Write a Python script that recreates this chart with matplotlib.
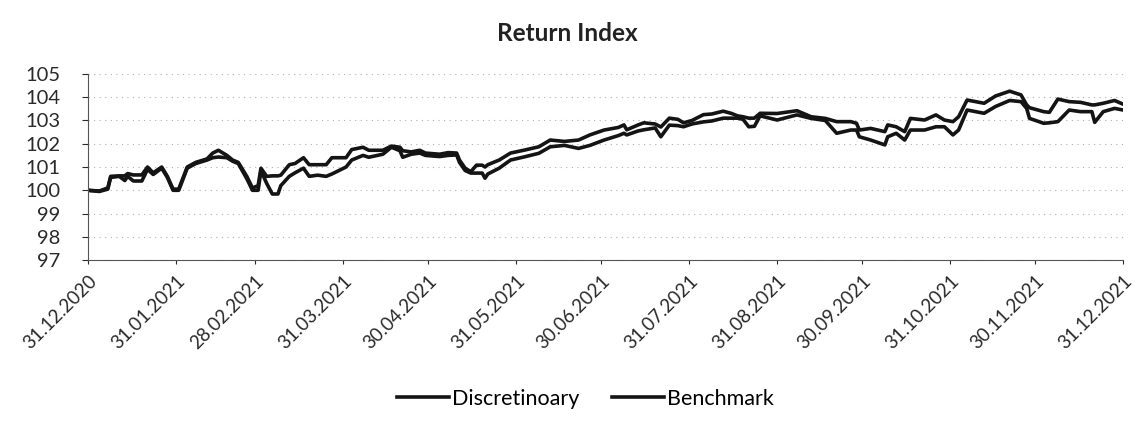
import numpy as np
import pandas as pd
import matplotlib
matplotlib.use("Agg")
import matplotlib.pyplot as plt
import matplotlib.dates as mdates

# values (two series, both drawn in black)
dates = [
    "2020-12-31", "2021-01-04", "2021-01-07", "2021-01-08", "2021-01-11", "2021-01-13",
    "2021-01-14", "2021-01-16", "2021-01-19", "2021-01-21", "2021-01-23", "2021-01-26",
    "2021-01-28", "2021-01-30", "2021-02-01", "2021-02-04", "2021-02-07", "2021-02-11",
    "2021-02-13", "2021-02-15", "2021-02-18", "2021-02-20", "2021-02-22", "2021-02-25",
    "2021-02-27", "2021-03-01", "2021-03-02", "2021-03-04", "2021-03-06", "2021-03-08",
    "2021-03-09", "2021-03-12", "2021-03-14", "2021-03-17", "2021-03-19", "2021-03-22",
    "2021-03-25", "2021-03-27", "2021-04-01", "2021-04-03", "2021-04-07", "2021-04-09",
    "2021-04-14", "2021-04-17", "2021-04-20", "2021-04-21", "2021-04-24", "2021-04-27",
    "2021-04-29", "2021-05-04", "2021-05-07", "2021-05-10", "2021-05-11", "2021-05-13",
    "2021-05-15", "2021-05-17", "2021-05-19", "2021-05-20", "2021-05-21", "2021-05-25",
    "2021-05-29", "2021-06-03", "2021-06-08", "2021-06-12", "2021-06-17", "2021-06-22",
    "2021-06-26", "2021-07-01", "2021-07-06", "2021-07-08", "2021-07-09", "2021-07-13",
    "2021-07-15", "2021-07-19", "2021-07-21", "2021-07-24", "2021-07-27", "2021-07-29",
    "2021-08-01", "2021-08-05", "2021-08-08", "2021-08-12", "2021-08-15", "2021-08-17",
    "2021-08-19", "2021-08-21", "2021-08-23", "2021-08-25", "2021-08-31", "2021-09-07",
    "2021-09-12", "2021-09-17", "2021-09-21", "2021-09-26", "2021-09-28", "2021-09-29",
    "2021-10-03", "2021-10-08", "2021-10-09", "2021-10-12", "2021-10-15", "2021-10-17",
    "2021-10-22", "2021-10-26", "2021-10-29", "2021-11-01", "2021-11-03", "2021-11-06",
    "2021-11-12", "2021-11-16", "2021-11-21", "2021-11-25", "2021-11-27", "2021-11-28",
    "2021-12-03", "2021-12-05", "2021-12-08", "2021-12-12", "2021-12-16", "2021-12-20",
    "2021-12-21", "2021-12-24", "2021-12-28", "2021-12-31",
]

discretionary = [
    100.00, 99.97, 100.10, 100.60, 100.62, 100.62,
    100.72, 100.66, 100.66, 101.00, 100.75, 101.00,
    100.60, 100.05, 100.05, 101.00, 101.20, 101.35,
    101.60, 101.72, 101.50, 101.30, 101.20, 100.60,
    100.10, 100.20, 100.95, 100.60, 100.62, 100.62,
    100.65, 101.10, 101.15, 101.40, 101.10, 101.10,
    101.10, 101.40, 101.40, 101.75, 101.85, 101.72,
    101.72, 101.90, 101.85, 101.70, 101.65, 101.72,
    101.60, 101.55, 101.62, 101.60, 101.30, 100.95,
    100.80, 101.08, 101.08, 101.00, 101.10, 101.30,
    101.60, 101.73, 101.87, 102.16, 102.10, 102.16,
    102.38, 102.59, 102.70, 102.81, 102.60, 102.81,
    102.90, 102.85, 102.72, 103.10, 103.05, 102.90,
    103.00, 103.25, 103.28, 103.40, 103.30, 103.20,
    103.16, 103.10, 103.10, 103.31, 103.30, 103.42,
    103.16, 103.09, 102.95, 102.95, 102.88, 102.59,
    102.66, 102.52, 102.81, 102.73, 102.52, 103.09,
    103.02, 103.24, 103.02, 102.95, 103.16, 103.88,
    103.74, 104.05, 104.26, 104.10, 103.67, 103.55,
    103.38, 103.35, 103.92, 103.81, 103.78, 103.67,
    103.67, 103.74, 103.86, 103.70,
]

benchmark = [
    100.00, 99.95, 100.05, 100.55, 100.60, 100.42,
    100.60, 100.40, 100.40, 100.90, 100.68, 100.95,
    100.55, 100.00, 100.00, 100.95, 101.15, 101.30,
    101.40, 101.43, 101.40, 101.25, 101.15, 100.50,
    100.00, 100.00, 100.85, 100.30, 99.84, 99.84,
    100.20, 100.60, 100.75, 100.95, 100.60, 100.65,
    100.60, 100.70, 101.00, 101.30, 101.50, 101.42,
    101.55, 101.85, 101.70, 101.42, 101.55, 101.60,
    101.50, 101.45, 101.50, 101.52, 101.20, 100.85,
    100.74, 100.74, 100.74, 100.52, 100.70, 100.95,
    101.30, 101.44, 101.59, 101.87, 101.93, 101.80,
    101.93, 102.16, 102.35, 102.45, 102.38, 102.55,
    102.60, 102.68, 102.30, 102.80, 102.78, 102.73,
    102.85, 102.94, 102.98, 103.10, 103.10, 103.10,
    103.05, 102.73, 102.75, 103.20, 103.02, 103.24,
    103.09, 103.00, 102.45, 102.59, 102.59, 102.30,
    102.16, 101.95, 102.30, 102.45, 102.16, 102.59,
    102.59, 102.73, 102.73, 102.38, 102.59, 103.45,
    103.31, 103.60, 103.86, 103.81, 103.52, 103.09,
    102.88, 102.90, 102.95, 103.45, 103.38, 103.38,
    102.92, 103.38, 103.52, 103.45,
]

series_names = ["Discretinoary", "Benchmark"]
tick_dates = ["2020-12-31", "2021-01-31", "2021-02-28", "2021-03-31", "2021-04-30",
              "2021-05-31", "2021-06-30", "2021-07-31", "2021-08-31", "2021-09-30",
              "2021-10-31", "2021-11-30", "2021-12-31"]
y_ticks = [97, 98, 99, 100, 101, 102, 103, 104, 105]

plt.rcParams['font.family'] = ['Lato', 'DejaVu Sans']

d = pd.to_datetime(dates)
ticks = pd.to_datetime(tick_dates)

fig = plt.figure(figsize=(11.35, 4.25), dpi=100)
ax = fig.add_axes([0.0775, 0.388, 0.912, 0.438])

ax.plot(d, discretionary, color='#141414', lw=2.6, label=series_names[0], solid_joinstyle='round')
ax.plot(d, benchmark, color='#141414', lw=2.6, label=series_names[1], solid_joinstyle='round')

ax.set_xlim(ticks[0], ticks[-1])
ax.set_ylim(97, 105)
ax.set_yticks(y_ticks)
ax.set_xticks(ticks)
ax.xaxis.set_major_formatter(mdates.DateFormatter('%d.%m.%Y'))
for lab in ax.get_xticklabels():
    lab.set_rotation(45)
    lab.set_ha('right')
    lab.set_rotation_mode('anchor')

ax.tick_params(axis='x', labelsize=13.5, colors='#2a2a2a', length=3, width=0.8, pad=6)
ax.tick_params(axis='y', labelsize=14.5, colors='#2a2a2a', length=4, width=0.8, pad=16)
ax.grid(axis='y', color='#b0b0b0', linestyle=(0, (1, 4)), linewidth=0.8)
ax.set_axisbelow(True)
for s in ['top', 'right']:
    ax.spines[s].set_visible(False)
ax.spines['left'].set_color('#555555')
ax.spines['bottom'].set_color('#555555')

fig.text(0.5, 0.922, 'Return Index', ha='center', va='center', fontsize=17.5, fontweight='bold', color='#222222')
fig.legend(loc='center', bbox_to_anchor=(0.516, 0.062), ncol=2, frameon=False,
           fontsize=15.5, handlelength=2.4, columnspacing=1.5, handletextpad=0.15)

fig.savefig('out.png', dpi=100)
